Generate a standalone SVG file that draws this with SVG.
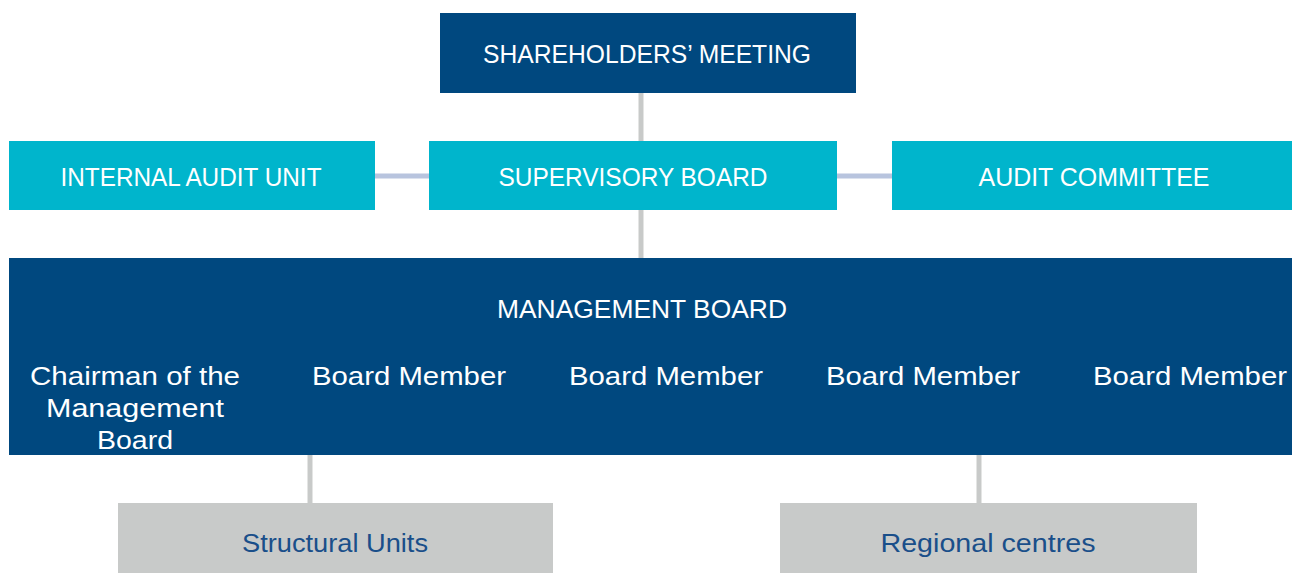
<svg xmlns="http://www.w3.org/2000/svg" width="1292" height="573" viewBox="0 0 1292 573">
<style>
.dark{fill:#00487F}
.cyan{fill:#00B5CC}
.grey{fill:#C8CAC9}
text{font-family:"Liberation Sans","DejaVu Sans",sans-serif;text-anchor:middle}
.w{fill:#FFFFFF;font-size:25px}
.b{fill:#1A4F8A;font-size:25px}
.vc{stroke:#C8CAC9;stroke-width:5;fill:none}
.hc{stroke:#B8C4DE;stroke-width:5;fill:none}
</style>
<rect width="1292" height="573" fill="#FFFFFF"/>
<g id="connectors">
<line class="vc" x1="641" y1="93" x2="641" y2="141"/>
<line class="vc" x1="641" y1="210" x2="641" y2="258"/>
<line class="hc" x1="375" y1="176" x2="429" y2="176"/>
<line class="hc" x1="837" y1="176" x2="892" y2="176"/>
<line class="vc" x1="310" y1="455" x2="310" y2="503"/>
<line class="vc" x1="979" y1="455" x2="979" y2="503"/>
</g>
<g id="shareholders">
<rect class="dark" x="440" y="13" width="416" height="80"/>
<text class="w" x="647" y="63" textLength="328" lengthAdjust="spacingAndGlyphs">SHAREHOLDERS’ MEETING</text>
</g>
<g id="internal-audit">
<rect class="cyan" x="9" y="141" width="366" height="69"/>
<text class="w" x="191" y="186" textLength="261" lengthAdjust="spacingAndGlyphs">INTERNAL AUDIT UNIT</text>
</g>
<g id="supervisory">
<rect class="cyan" x="429" y="141" width="408" height="69"/>
<text class="w" x="633" y="186" textLength="269" lengthAdjust="spacingAndGlyphs">SUPERVISORY BOARD</text>
</g>
<g id="audit-committee">
<rect class="cyan" x="892" y="141" width="400" height="69"/>
<text class="w" x="1094" y="186" textLength="231" lengthAdjust="spacingAndGlyphs">AUDIT COMMITTEE</text>
</g>
<g id="management">
<rect class="dark" x="9" y="258" width="1283" height="197"/>
<text class="w" x="642" y="318" textLength="290" lengthAdjust="spacingAndGlyphs">MANAGEMENT BOARD</text>
<text class="w" x="135" y="385" textLength="210" lengthAdjust="spacingAndGlyphs">Chairman of the</text>
<text class="w" x="135" y="417" textLength="178" lengthAdjust="spacingAndGlyphs">Management</text>
<text class="w" x="135" y="449" textLength="76" lengthAdjust="spacingAndGlyphs">Board</text>
<text class="w" x="409" y="385" textLength="194" lengthAdjust="spacingAndGlyphs">Board Member</text>
<text class="w" x="666" y="385" textLength="194" lengthAdjust="spacingAndGlyphs">Board Member</text>
<text class="w" x="923" y="385" textLength="194" lengthAdjust="spacingAndGlyphs">Board Member</text>
<text class="w" x="1190" y="385" textLength="194" lengthAdjust="spacingAndGlyphs">Board Member</text>
</g>
<g id="structural">
<rect class="grey" x="118" y="503" width="435" height="70"/>
<text class="b" x="335" y="552" textLength="186" lengthAdjust="spacingAndGlyphs">Structural Units</text>
</g>
<g id="regional">
<rect class="grey" x="780" y="503" width="417" height="70"/>
<text class="b" x="988" y="552" textLength="215" lengthAdjust="spacingAndGlyphs">Regional centres</text>
</g>
</svg>
